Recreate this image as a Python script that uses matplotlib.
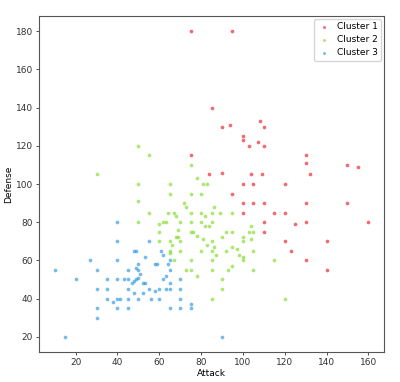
import numpy as np
import matplotlib
matplotlib.use('Agg')
import matplotlib.pyplot as plt

## the data (Attack, Defense) per cluster
c1_attack = [75, 95, 85, 90, 94, 108, 110, 100, 100, 103, 107, 110, 75, 130, 130, 150, 155,
             84, 90, 104, 109, 132, 100, 105, 120, 95, 100, 105, 110, 130, 150, 100, 115,
             120, 110, 125, 130, 160, 110, 120, 140, 123, 130, 140]
c1_defense = [180, 180, 140, 130, 131, 133, 130, 125, 123, 120, 122, 120, 115, 115, 111, 110, 109,
              105, 106, 105, 105, 105, 100, 100, 100, 95, 90, 90, 90, 90, 90, 85, 85,
              85, 80, 79, 80, 80, 75, 70, 70, 65, 60, 55]

c2_attack = [50, 55, 75, 78, 30, 50, 65, 81, 83, 65, 75, 80, 50, 72, 73, 55, 64, 67, 68, 75,
             50, 60, 62, 63, 70, 75, 69, 60, 75, 76, 78, 68, 69, 60, 65, 70, 66, 65, 65, 70,
             67, 73, 75, 78, 75, 86, 80, 85, 89, 95, 82, 80, 85, 82, 84, 104, 103, 105, 92,
             95, 90, 100, 100, 104, 81, 85, 83, 86, 80, 85, 92, 95, 97, 98, 100, 100, 105,
             87, 85, 115, 85, 93, 95, 105, 90, 90, 85, 120]
c2_defense = [120, 115, 110, 103, 105, 100, 100, 100, 100, 95, 95, 95, 91, 90, 88, 85, 85, 85, 83, 85,
              80, 79, 80, 80, 80, 80, 76, 75, 75, 75, 73, 72, 72, 70, 70, 70, 68, 65, 64, 65,
              60, 55, 55, 52, 60, 88, 85, 85, 85, 85, 83, 80, 80, 78, 78, 78, 75, 75, 75,
              75, 72, 72, 70, 71, 71, 70, 68, 67, 65, 65, 65, 67, 66, 63, 62, 60, 65,
              63, 60, 60, 55, 55, 57, 55, 50, 45, 40, 40]

c3_attack = [55, 40, 40, 27, 40, 10, 30, 20, 35, 40, 43, 45, 30, 35, 45, 35, 38, 40, 41, 45,
             40, 45, 30, 30, 15, 48, 49, 53, 50, 49, 50, 51, 47, 48, 49, 50, 52, 53, 48, 52,
             50, 55, 56, 58, 58, 59, 60, 60, 62, 63, 63, 64, 65, 65, 65, 65, 65, 61, 62, 70,
             70, 70, 70, 75, 75, 90, 45]
c3_defense = [70, 80, 70, 60, 60, 55, 55, 50, 50, 50, 50, 50, 45, 45, 45, 40, 38, 40, 40, 40,
              35, 35, 35, 30, 20, 65, 65, 62, 58, 56, 55, 53, 48, 49, 50, 51, 48, 48, 43, 43,
              40, 45, 40, 44, 58, 58, 40, 45, 50, 52, 45, 58, 60, 55, 48, 45, 35, 65, 63, 50,
              45, 40, 35, 37, 35, 20, 55]

labels = ['Cluster 1', 'Cluster 2', 'Cluster 3']
colors = ['#ec1c24', '#7fdc26', '#2a97e0']

plt.rcParams['font.size'] = 6.5
fig = plt.figure(figsize=(4.0, 3.82), dpi=100)
ax = fig.add_axes([0.0975, 0.0785, 0.8625, 0.8795])

for xs, ys, lab, col in zip([c1_attack, c2_attack, c3_attack],
                            [c1_defense, c2_defense, c3_defense], labels, colors):
    ax.scatter(xs, ys, s=7, color=col, alpha=0.65, linewidths=0, label=lab)

## axes and labels
ax.set_xlabel('Attack', labelpad=1)
ax.set_ylabel('Defense', labelpad=2)
ax.set_xticks([20, 40, 60, 80, 100, 120, 140, 160])
ax.set_yticks([20, 40, 60, 80, 100, 120, 140, 160, 180])
ax.tick_params(length=2.5, width=0.6, pad=2, colors='#333333')
for sp in ax.spines.values():
    sp.set_color('#555555')
    sp.set_linewidth(0.8)
ax.legend(loc='upper right', markerscale=0.8, handlelength=1.4, handletextpad=0.7,
          borderpad=0.4, labelspacing=0.45, borderaxespad=0.3, fontsize=6.5)

fig.savefig('out.png', dpi=100)
